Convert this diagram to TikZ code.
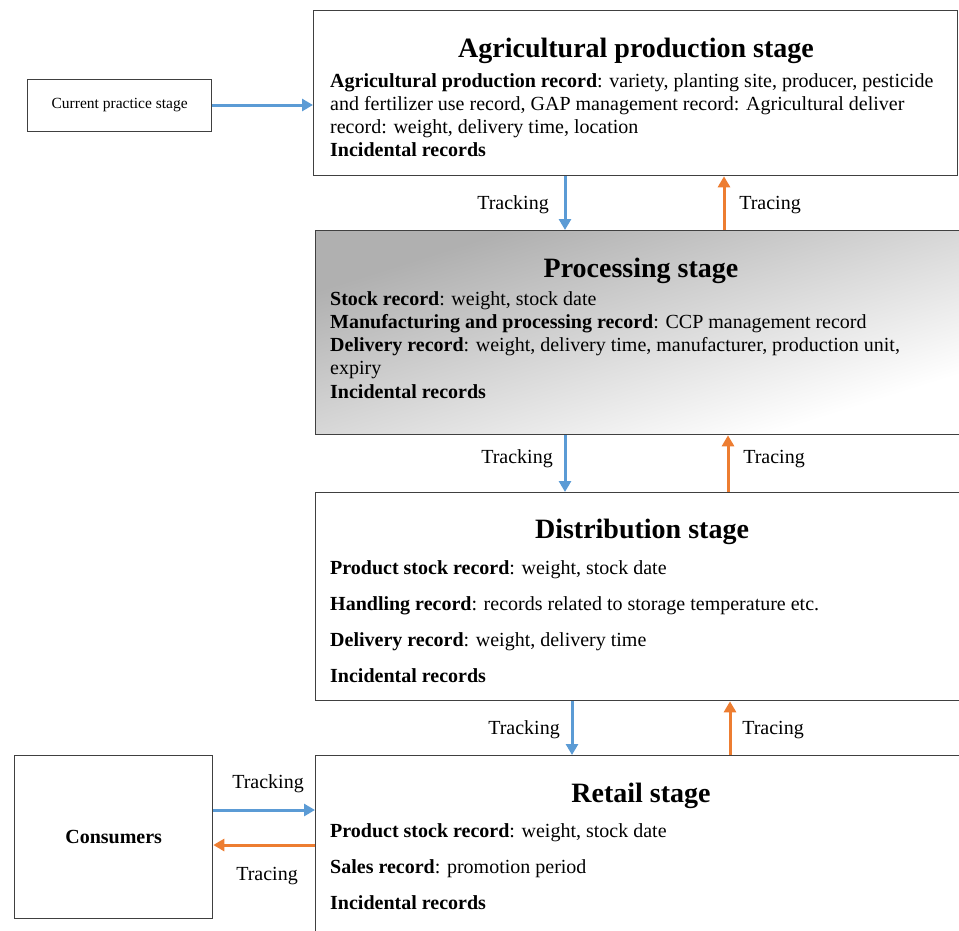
\documentclass[tikz,border=0pt]{standalone}
\usepackage{fontspec}
\setmainfont{Liberation Serif}
\usetikzlibrary{arrows.meta}
\definecolor{trackblue}{HTML}{5B9BD5}
\definecolor{traceorange}{HTML}{ED7D31}
\definecolor{boxline}{HTML}{404040}
\begin{document}
\begin{tikzpicture}[x=1pt,y=-1pt,
  box/.style={draw=boxline, line width=1.3pt, rectangle, inner sep=0pt, anchor=north west},
  ttl/.style={font=\fontsize{28}{32}\selectfont\bfseries, anchor=base, inner sep=0pt},
  body/.style={font=\fontsize{20}{23}\selectfont, anchor=base west, inner sep=0pt},
  lbl/.style={font=\fontsize{20}{23}\selectfont, inner sep=0pt},
  trk/.style={draw=trackblue, line width=3pt, -{Triangle[length=11pt,width=12pt]}},
  trc/.style={draw=traceorange, line width=3pt, -{Triangle[length=11pt,width=12pt]}}]
\useasboundingbox (0,0) rectangle (959,930);
\clip (0,0) rectangle (959,930);

% gradient fill of the processing box (diagonal, stretched to the box)
\shade[transform canvas={shift={(315pt,-230pt)}, xscale=6.48, yscale=2.04},
  shading=axis, top color=gray!62, bottom color=white, shading angle=45]
  (0,0) rectangle (100,100);

% boxes
\node[box, minimum width=184pt, minimum height=52pt] (cps) at (27,79) {};
\node[font=\fontsize{15.5}{18}\selectfont] (cpst) at ([yshift=1pt]cps.center) {Current practice stage};
\node[box, minimum width=644pt, minimum height=165pt] (agr) at (313,10) {};
\node[box, minimum width=648pt, minimum height=204pt] (proc) at (315,230) {};
\node[box, minimum width=660pt, minimum height=208pt] (dist) at (315,492) {};
\node[box, minimum width=660pt, minimum height=200pt] (ret) at (315,755) {};
\node[box, minimum width=198pt, minimum height=163pt] (cons) at (14,755) {};
\node[font=\fontsize{20}{23}\selectfont\bfseries] (const) at (cons.center) {Consumers};

% agricultural text
\node[ttl] (t1) at (636,57) {Agricultural production stage};
\node[body] (a1) at (330,87) {\textbf{Agricultural production record}: variety, planting site, producer, pesticide};
\node[body] (a2) at (330,110) {and fertilizer use record, GAP management record: Agricultural deliver};
\node[body] (a3) at (330,133) {record: weight, delivery time, location};
\node[body] (a4) at (330,156) {\textbf{Incidental records}};

% processing text
\node[ttl] (t2) at (641,277) {Processing stage};
\node[body] (p1) at (330,305) {\textbf{Stock record}: weight, stock date};
\node[body] (p2) at (330,328) {\textbf{Manufacturing and processing record}: CCP management record};
\node[body] (p3) at (330,351) {\textbf{Delivery record}: weight, delivery time, manufacturer, production unit,};
\node[body] (p4) at (330,374) {expiry};
\node[body] (p5) at (330,398) {\textbf{Incidental records}};

% distribution text
\node[ttl] (t3) at (642,538) {Distribution stage};
\node[body] (d1) at (330,574) {\textbf{Product stock record}: weight, stock date};
\node[body] (d2) at (330,610) {\textbf{Handling record}: records related to storage temperature etc.};
\node[body] (d3) at (330,646) {\textbf{Delivery record}: weight, delivery time};
\node[body] (d4) at (330,682) {\textbf{Incidental records}};

% retail text
\node[ttl] (t4) at (641,802) {Retail stage};
\node[body] (r1) at (330,837) {\textbf{Product stock record}: weight, stock date};
\node[body] (r2) at (330,873) {\textbf{Sales record}: promotion period};
\node[body] (r3) at (330,909) {\textbf{Incidental records}};

% arrow columns
\coordinate (xb1) at (565,0);
\coordinate (xo1) at (724,0);
\coordinate (xb2) at (565,0);
\coordinate (xo2) at (728,0);
\coordinate (xb3) at (572,0);
\coordinate (xo3) at (730,0);
\coordinate (yc) at (0,105);
\coordinate (yb) at (0,810);
\coordinate (yo) at (0,845);

\draw[trk] (cps.east |- yc) -- (agr.west |- yc);
\draw[trk] (xb1 |- agr.south) -- (xb1 |- proc.north);
\draw[trc] (xo1 |- proc.north) -- (xo1 |- agr.south);
\draw[trk] (xb2 |- proc.south) -- (xb2 |- dist.north);
\draw[trc] (xo2 |- dist.north) -- (xo2 |- proc.south);
\draw[trk] (xb3 |- dist.south) -- (xb3 |- ret.north);
\draw[trc] (xo3 |- ret.north) -- (xo3 |- dist.south);
\draw[trk] (cons.east |- yb) -- (ret.west |- yb);
\draw[trc] (ret.west |- yo) -- (cons.east |- yo);

% labels
\node[lbl] (l1) at (513,205) {Tracking};
\node[lbl] (l2) at (770,205) {Tracing};
\node[lbl] (l3) at (517,459) {Tracking};
\node[lbl] (l4) at (774,459) {Tracing};
\node[lbl] (l5) at (524,730) {Tracking};
\node[lbl] (l6) at (773,730) {Tracing};
\node[lbl] (l7) at (268,784) {Tracking};
\node[lbl] (l8) at (267,876) {Tracing};
\end{tikzpicture}
\end{document}
